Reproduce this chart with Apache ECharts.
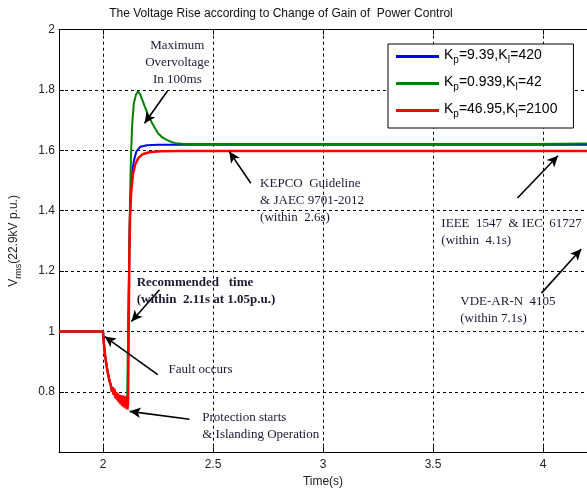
<!DOCTYPE html>
<html><head><meta charset="utf-8">
<script src="https://cdn.jsdelivr.net/npm/echarts@6/dist/echarts.min.js"></script>
<style>html,body{margin:0;padding:0;background:#fff}#c{width:587px;height:493px}</style>
</head><body><div id="c"></div><script>
// ---- data ----
const xTicks = [2, 2.5, 3, 3.5, 4];
const seriesNames = ['Kp=9.39,KI=420', 'Kp=0.939,KI=42', 'Kp=46.95,KI=2100'];
const legendRich = ['{n|K}{s|p}{n|=9.39,K}{s|I}{n|=420}', '{n|K}{s|p}{n|=0.939,K}{s|I}{n|=42}', '{n|K}{s|p}{n|=46.95,K}{s|I}{n|=2100}'];
const blueData = [[1.8,1],[2,1],[2.008,0.93],[2.02,0.87],[2.03,0.835],[2.045,0.8],[2.06,0.78],[2.08,0.765],[2.1,0.755],[2.112,0.752],[2.114,0.9],[2.117,1.1],[2.12,1.3],[2.124,1.42],[2.13,1.51],[2.14,1.565],[2.152,1.597],[2.17,1.612],[2.2,1.617],[2.25,1.619],[2.3,1.619],[4.2,1.619]];
const greenData = [[1.8,1],[2,1],[2.008,0.93],[2.02,0.87],[2.03,0.835],[2.045,0.8],[2.06,0.78],[2.08,0.765],[2.1,0.755],[2.11,0.752],[2.112,0.9],[2.115,1.0],[2.118,1.2],[2.122,1.4],[2.127,1.58],[2.133,1.69],[2.14,1.755],[2.15,1.785],[2.159,1.795],[2.168,1.787],[2.18,1.765],[2.19,1.745],[2.205,1.718],[2.22,1.695],[2.235,1.675],[2.25,1.657],[2.27,1.643],[2.29,1.635],[2.31,1.628],[2.33,1.624],[2.36,1.622],[2.4,1.621],[3.95,1.621],[3.955,1.623],[4.2,1.623]];
const redData = [[1.8,1],[2,1],[2.002,0.97],[2.008,0.93],[2.015,0.89],[2.02,0.87],[2.03,0.835],[2.036,0.82],[2.040,0.80],[2.044,0.815],[2.048,0.79],[2.052,0.81],[2.056,0.78],[2.060,0.80],[2.064,0.772],[2.068,0.795],[2.072,0.765],[2.076,0.79],[2.080,0.758],[2.084,0.788],[2.088,0.752],[2.092,0.787],[2.096,0.748],[2.100,0.786],[2.104,0.744],[2.108,0.785],[2.111,0.741],[2.114,0.76],[2.116,0.95],[2.118,1.1],[2.12,1.25],[2.123,1.38],[2.128,1.46],[2.136,1.52],[2.147,1.555],[2.162,1.576],[2.18,1.587],[2.21,1.594],[2.26,1.597],[2.35,1.598],[4.2,1.598]];
const arrows = [
  [[2.293,1.797],[2.189,1.690]],
  [[2.672,1.491],[2.574,1.596]],
  [[2.257,1.138],[2.129,1.033]],
  [[2.249,0.857],[2.008,0.983]],
  [[2.393,0.709],[2.121,0.735]],
  [[3.884,1.442],[4.068,1.582]],
  [[3.993,1.127],[4.174,1.273]]
];
const notes = [
  {at:[2.338,1.949], align:'center', bold:false, text:'Maximum\nOvervoltage\nIn 100ms'},
  {at:[2.714,1.490], align:'left', bold:false, text:'KEPCO  Guideline\n& JAEC 9701-2012\n(within  2.6s)'},
  {at:[2.153,1.161], align:'left', bold:true, text:'Recommended   time\n(within  2.11s at 1.05p.u.)'},
  {at:[2.298,0.875], align:'left', bold:false, text:'Fault occurs'},
  {at:[2.451,0.713], align:'left', bold:false, text:'Protection starts\n& Islanding Operation'},
  {at:[3.538,1.357], align:'left', bold:false, text:'IEEE  1547  & IEC  61727\n(within  4.1s)'},
  {at:[3.624,1.099], align:'left', bold:false, text:'VDE-AR-N  4105\n(within 7.1s)'}
];
const titleText = 'The Voltage Rise according to Change of Gain of  Power Control';

// ---- chart ----
const chart = echarts.init(document.getElementById('c'), null, {renderer:'canvas'});
const sans = 'Liberation Sans, Arial, sans-serif';
const serif = 'Liberation Serif, Times New Roman, serif';
const gridDash = {show:true, lineStyle:{color:'#000', width:1, type:[3,3]}};
const colors = ['#0000ff','#008000','#ff0000'];
const datas = [blueData, greenData, redData];

const option = {
  animation:false,
  backgroundColor:'#fff',
  grid:{left:59, right:-2, top:29.7, bottom:40.5, containLabel:false},
  legend:{
    data:seriesNames, orient:'vertical', left:388, top:44,
    backgroundColor:'#fff', borderColor:'#000', borderWidth:1,
    padding:[4,16,9,8], itemGap:10, itemWidth:43, itemHeight:3, icon:'rect',
    formatter:function(name){return legendRich[seriesNames.indexOf(name)];},
    textStyle:{fontFamily:sans, fontSize:14, color:'#000', padding:[0,0,0,0],
      rich:{n:{fontFamily:sans, fontSize:14, color:'#000', verticalAlign:'bottom', padding:[0,0,3,0]},
            s:{fontFamily:sans, fontSize:10, color:'#000', verticalAlign:'bottom'}}}
  },
  xAxis:[{
    type:'value', min:1.8, max:4.2, position:'bottom',
    axisLine:{show:true, onZero:false, lineStyle:{color:'#000', width:1}},
    axisTick:{show:true, inside:true, length:5, customValues:xTicks, lineStyle:{color:'#000'}},
    axisLabel:{show:true, customValues:xTicks, margin:7, fontFamily:sans, fontSize:12, color:'#222'},
    splitLine:gridDash,
    name:'Time(s)', nameLocation:'middle', nameGap:23,
    nameTextStyle:{fontFamily:sans, fontSize:12, color:'#222'}
  },{
    type:'value', min:1.8, max:4.2, position:'top',
    axisLine:{show:true, onZero:false, lineStyle:{color:'#000', width:1}},
    axisTick:{show:true, inside:true, length:5, customValues:xTicks, lineStyle:{color:'#000'}},
    axisLabel:{show:false}, splitLine:{show:false}
  }],
  yAxis:[{
    type:'value', min:0.6, max:2, interval:0.2,
    axisLine:{show:true, onZero:false, lineStyle:{color:'#000', width:1}},
    axisTick:{show:true, inside:true, length:5, lineStyle:{color:'#000'}},
    axisLabel:{margin:4, fontFamily:sans, fontSize:12, color:'#222',
      formatter:function(v){ if (Math.abs(v-0.6)<1e-6) return ''; return String(Math.round(v*10)/10);} },
    splitLine:gridDash,
    name:'{a|V}{b|rms}{a|(22.9kV p.u.)}', nameLocation:'middle', nameGap:36, nameRotate:90,
    nameTextStyle:{fontFamily:sans, fontSize:12, color:'#222',
      rich:{a:{fontFamily:sans, fontSize:12, color:'#222', verticalAlign:'bottom', padding:[0,0,3,0]},
            b:{fontFamily:sans, fontSize:9, color:'#222', verticalAlign:'bottom'}}}
  }],
  series: seriesNames.map(function(n,i){
    return {name:n, type:'line', xAxisIndex:0, yAxisIndex:0, data:datas[i], showSymbol:false, symbol:'none',
      lineStyle:{color:colors[i], width:i===2?2.5:2}, itemStyle:{color:colors[i]}, z:2+i};
  }).concat([{
    name:'arrows', type:'line', data:[], xAxisIndex:0, yAxisIndex:0, z:10,
    markLine:{silent:true, symbol:['none','arrow'], symbolSize:[8,11], animation:false,
      lineStyle:{color:'#000', width:1.6, type:'solid'}, label:{show:false},
      data: arrows.map(function(a){return [{coord:a[0]},{coord:a[1]}];})}
  }])
};
chart.setOption(option);

const g = [{type:'text', x:281, y:14, z:100, style:{text:titleText, fontFamily:sans, fontSize:12, fill:'#111', align:'center', verticalAlign:'middle'}}];
notes.forEach(function(nt){
  const p = chart.convertToPixel({xAxisIndex:0, yAxisIndex:0}, nt.at);
  g.push({type:'text', x:p[0], y:p[1]-8.5, z:100, style:{text:nt.text, fontFamily:serif, fontSize:13,
    fontWeight: nt.bold?'bold':'normal', fill:'#1a1a33', align:nt.align, verticalAlign:'top', lineHeight:17}});
});
chart.setOption({graphic:g});
</script></body></html>
